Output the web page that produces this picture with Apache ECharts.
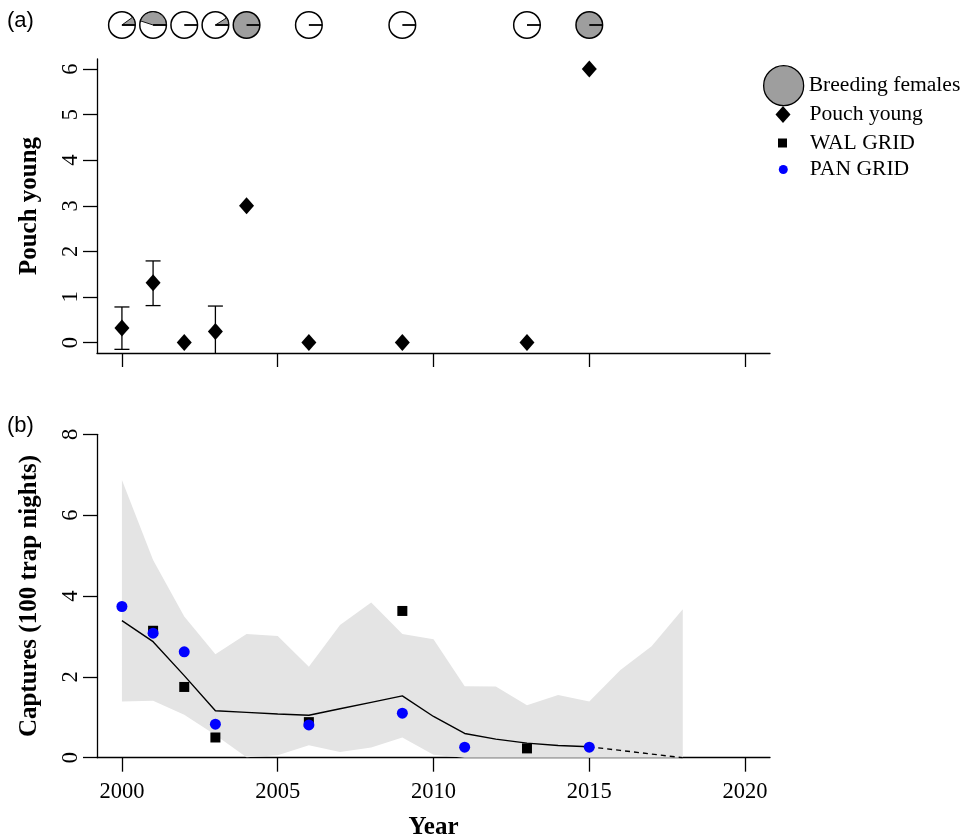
<!DOCTYPE html>
<html><head><meta charset="utf-8">
<script src="https://cdn.jsdelivr.net/npm/echarts@6/dist/echarts.min.js"></script>
<style>html,body{margin:0;padding:0;background:#fff}#c{width:970px;height:836px}</style>
</head><body><div id="c"></div>
<script>
// ---------- data ----------
const xTicks = [2000, 2005, 2010, 2015, 2020];
const pouchTicks = [0, 1, 2, 3, 4, 5, 6];
const captureTicks = [0, 2, 4, 6, 8];

const pieYears = [2000, 2001, 2002, 2003, 2004, 2006, 2009, 2013, 2015];
const breedingFraction = [0.1, 0.45, 0, 0.09, 1, 0, 0, 0, 1];

const pouchYears = [2000, 2001, 2002, 2003, 2004, 2006, 2009, 2013, 2015];
const pouchYoung = [0.32, 1.31, 0, 0.24, 3, 0, 0, 0, 6];
const errYears = [2000, 2001, 2003];
const errLow = [-0.15, 0.81, -0.3];
const errHigh = [0.78, 1.79, 0.80];

const walYears = [2001, 2002, 2003, 2006, 2009, 2013];
const walGrid = [3.14, 1.75, 0.50, 0.88, 3.63, 0.23];
const panYears = [2000, 2001, 2002, 2003, 2006, 2009, 2011, 2015];
const panGrid = [3.74, 3.08, 2.62, 0.83, 0.81, 1.10, 0.26, 0.26];

const fitYears = [2000, 2001, 2002, 2003, 2004, 2005, 2006, 2007, 2008, 2009, 2010, 2011, 2012, 2013, 2014, 2015];
const fitted = [3.39, 2.87, 2.03, 1.16, 1.12, 1.08, 1.05, 1.21, 1.37, 1.53, 1.02, 0.60, 0.46, 0.36, 0.30, 0.27];
const projYears = [2015, 2016, 2017, 2018];
const projected = [0.27, 0.18, 0.09, 0.0];

const bandYears = [2000, 2001, 2002, 2003, 2004, 2005, 2006, 2007, 2008, 2009, 2010, 2011, 2012, 2013, 2014, 2015, 2016, 2017, 2018];
const bandUpper = [6.87, 4.89, 3.49, 2.56, 3.06, 3.01, 2.25, 3.28, 3.84, 3.06, 2.93, 1.77, 1.76, 1.30, 1.55, 1.39, 2.17, 2.76, 3.67];
const bandLower = [1.39, 1.41, 1.06, 0.56, 0.01, 0.06, 0.31, 0.14, 0.25, 0.50, 0.07, 0, 0, 0, 0, 0, 0, 0, 0];

// ---------- styles ----------
const SERIF = 'Liberation Serif';
const SANS = 'Liberation Sans';
const GREY = '#9e9e9e';
const BAND = '#e4e4e4';
const XMIN = 1999.2, XMAX = 2020.8;

const zip = (a, b) => a.map((v, i) => [v, b[i]]);

const chart = echarts.init(document.getElementById('c'), null, {renderer: 'canvas'});

const axisLineStyle = {show: true, onZero: false, lineStyle: {color: '#000', width: 1.3}};
const tickStyle = (vals) => ({show: true, inside: false, length: 14, customValues: vals, lineStyle: {color: '#000', width: 1.3}});

const legendText = (padLeft) => ({fontFamily: SERIF, fontSize: 21.6, color: '#000', padding: [0, 0, 0, padLeft]});

const option = {
  animation: false,
  backgroundColor: '#fff',
  title: [
    {text: '(a)', left: 7, top: 10, padding: 0, textStyle: {fontFamily: SANS, fontSize: 22, fontWeight: 'normal', color: '#000'}},
    {text: '(b)', left: 7, top: 415, padding: 0, textStyle: {fontFamily: SANS, fontSize: 22, fontWeight: 'normal', color: '#000'}}
  ],
  legend: [
    {data: [{name: 'Breeding females', icon: 'circle', itemStyle: {color: GREY, borderColor: '#000', borderWidth: 1.3}}],
     left: 763, top: 65, padding: 0, itemWidth: 40, itemHeight: 40, selectedMode: false, textStyle: legendText(0)},
    {data: [{name: 'Pouch young', icon: 'diamond', itemStyle: {color: '#000', opacity: 1}}],
     left: 775.5, top: 103.5, padding: 0, itemWidth: 15, itemHeight: 17, selectedMode: false, textStyle: legendText(14)},
    {data: [{name: 'WAL GRID', icon: 'rect', itemStyle: {color: '#000', opacity: 1}}],
     left: 778, top: 132, padding: 0, itemWidth: 9, itemHeight: 9, selectedMode: false, textStyle: legendText(18)},
    {data: [{name: 'PAN GRID', icon: 'circle', itemStyle: {color: '#0000ff', opacity: 1}}],
     left: 778.8, top: 158.5, padding: 0, itemWidth: 9, itemHeight: 9, selectedMode: false, textStyle: legendText(17)}
  ],
  grid: [
    {left: 97, width: 673, top: 12, height: 26, outerBoundsMode: 'none', containLabel: false},
    {left: 97, width: 673, top: 59, height: 294, outerBoundsMode: 'none', containLabel: false},
    {left: 97, width: 673, top: 434.3, height: 323.4, outerBoundsMode: 'none', containLabel: false}
  ],
  xAxis: [
    {gridIndex: 0, type: 'value', min: XMIN, max: XMAX, show: false},
    {gridIndex: 1, type: 'value', min: XMIN, max: XMAX, axisLine: axisLineStyle, axisTick: tickStyle(xTicks),
     axisLabel: {show: false}, splitLine: {show: false}},
    {gridIndex: 2, type: 'value', min: XMIN, max: XMAX, axisLine: axisLineStyle, axisTick: tickStyle(xTicks),
     axisLabel: {show: true, customValues: xTicks, margin: 23, fontFamily: SERIF, fontSize: 22.5, color: '#000', formatter: v => String(v)},
     splitLine: {show: false},
     name: 'Year', nameLocation: 'middle', nameGap: 57,
     nameTextStyle: {fontFamily: SERIF, fontSize: 25, fontWeight: 'bold', color: '#000'}}
  ],
  yAxis: [
    {gridIndex: 0, type: 'value', min: 0, max: 1, show: false},
    {gridIndex: 1, type: 'value', min: -0.23, max: 6.22, axisLine: axisLineStyle, axisTick: tickStyle(pouchTicks),
     axisLabel: {show: true, customValues: pouchTicks, rotate: 90, margin: 14, fontFamily: SERIF, fontSize: 22.5, color: '#000'},
     splitLine: {show: false},
     name: 'Pouch young', nameLocation: 'middle', nameGap: 55,
     nameTextStyle: {fontFamily: SERIF, fontSize: 25, fontWeight: 'bold', color: '#000'}},
    {gridIndex: 2, type: 'value', min: 0, max: 8, axisLine: axisLineStyle, axisTick: tickStyle(captureTicks),
     axisLabel: {show: true, customValues: captureTicks, rotate: 90, margin: 14, fontFamily: SERIF, fontSize: 22.5, color: '#000'},
     splitLine: {show: false},
     name: 'Captures (100 trap nights)', nameLocation: 'middle', nameGap: 55,
     nameTextStyle: {fontFamily: SERIF, fontSize: 25, fontWeight: 'bold', color: '#000'}}
  ],
  series: [
    // breeding females pies
    {
      name: 'Breeding females', type: 'custom', xAxisIndex: 0, yAxisIndex: 0,
      itemStyle: {color: GREY},
      data: zip(pieYears, breedingFraction),
      renderItem: function (params, api) {
        const yr = api.value(0), f = api.value(1);
        const p = api.coord([yr, 0.5]);
        const r = 13.3;
        const children = [];
        children.push({type: 'circle', shape: {cx: p[0], cy: p[1], r: r},
          style: {fill: f >= 1 ? GREY : '#fff', stroke: '#000', lineWidth: 1.5}});
        if (f > 0 && f < 1) {
          children.push({type: 'sector', shape: {cx: p[0], cy: p[1], r0: 0, r: r, startAngle: 0, endAngle: -f * 2 * Math.PI, clockwise: false},
            style: {fill: GREY, stroke: '#000', lineWidth: 0.9}});
        }
        children.push({type: 'line', shape: {x1: p[0], y1: p[1], x2: p[0] + r, y2: p[1]},
          style: {stroke: '#000', lineWidth: 1.8}});
        return {type: 'group', children: children};
      }
    },
    // error bars
    {
      name: 'errbars', type: 'custom', xAxisIndex: 1, yAxisIndex: 1, clip: true,
      data: errYears.map((y, i) => [y, errLow[i], errHigh[i]]),
      encode: {x: 0, y: [1, 2]},
      renderItem: function (params, api) {
        const yr = api.value(0);
        const lo = api.coord([yr, api.value(1)]);
        const hi = api.coord([yr, api.value(2)]);
        const hw = 7.5;
        const st = {stroke: '#000', lineWidth: 1.3};
        return {type: 'group', children: [
          {type: 'line', shape: {x1: lo[0], y1: lo[1], x2: hi[0], y2: hi[1]}, style: st},
          {type: 'line', shape: {x1: hi[0] - hw, y1: hi[1], x2: hi[0] + hw, y2: hi[1]}, style: st},
          {type: 'line', shape: {x1: lo[0] - hw, y1: lo[1], x2: lo[0] + hw, y2: lo[1]}, style: st}
        ]};
      }
    },
    {
      name: 'Pouch young', type: 'scatter', xAxisIndex: 1, yAxisIndex: 1,
      symbol: 'diamond', symbolSize: [15, 17], itemStyle: {color: '#000', opacity: 1},
      data: zip(pouchYears, pouchYoung), z: 5
    },
    // confidence band
    {
      name: 'band', type: 'custom', xAxisIndex: 2, yAxisIndex: 2, z: 1,
      data: [[bandYears[0], bandLower[0]]],
      renderItem: function (params, api) {
        const pts = [];
        for (let i = 0; i < bandYears.length; i++) pts.push(api.coord([bandYears[i], bandUpper[i]]));
        for (let i = bandYears.length - 1; i >= 0; i--) pts.push(api.coord([bandYears[i], bandLower[i]]));
        return {type: 'polygon', shape: {points: pts}, style: {fill: BAND}};
      }
    },
    {
      name: 'fit', type: 'line', xAxisIndex: 2, yAxisIndex: 2, z: 2,
      data: zip(fitYears, fitted), showSymbol: false, symbol: 'none',
      lineStyle: {color: '#000', width: 1.4}
    },
    {
      name: 'proj', type: 'line', xAxisIndex: 2, yAxisIndex: 2, z: 2,
      data: zip(projYears, projected), showSymbol: false, symbol: 'none',
      lineStyle: {color: '#000', width: 1.4, type: [5, 4]}
    },
    {
      name: 'WAL GRID', type: 'scatter', xAxisIndex: 2, yAxisIndex: 2, z: 3,
      symbol: 'rect', symbolSize: 10, itemStyle: {color: '#000', opacity: 1},
      data: zip(walYears, walGrid)
    },
    {
      name: 'PAN GRID', type: 'scatter', xAxisIndex: 2, yAxisIndex: 2, z: 4,
      symbol: 'circle', symbolSize: 11, itemStyle: {color: '#0000ff', opacity: 1},
      data: zip(panYears, panGrid)
    }
  ]
};
chart.setOption(option);
</script>
</body></html>
